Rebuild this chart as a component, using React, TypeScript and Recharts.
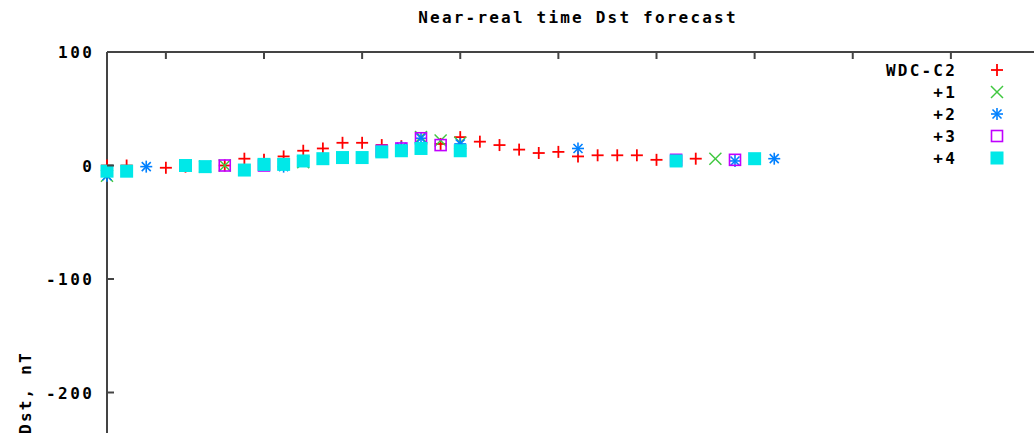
import { ScatterChart, Scatter, XAxis, YAxis, Legend } from "recharts";

// hour index along the x axis, one slot per value
const hours = Array.from({ length: 35 }, (_, i) => i);

const wdc = [0, 0, null, -2, -1, null, 0, 6, 5, 8, 13, 15, 20, 20, 18, 17, null, 19, 25, 21,
  18, 14, 11, 12, 8, 9, 9, 9, 5, 4, 6, null, null, null, null];
const plus1 = [-9, null, null, null, null, -1, 0, null, null, null, 3, null, null, null, null, null, 25, 22, 20, null,
  null, null, null, null, null, null, null, null, null, null, null, 6, null, null, null];
const plus2 = [-9, null, -1, null, null, null, null, null, null, -1, null, null, null, null, null, 16, 24, null, 19, null,
  null, null, null, null, 15, null, null, null, null, null, null, null, 4, null, 6];
const plus3 = [null, null, null, null, null, null, 0, null, 0, null, null, null, null, null, 13, 15, 24, 18, null, null,
  null, null, null, null, null, null, null, null, null, 5, null, null, 5, null, null];
const plus4 = [-5, -5, null, null, 0, -1, null, -4, 1, 1, 4, 6, 7, 7, 12, 13, 15, null, 13, null,
  null, null, null, null, null, null, null, null, null, 4, null, null, null, 6, null];

const xTicks = [3, 8, 13, 18, 23, 28, 33, 38, 43, 48];
const yTicks = [100, 0, -100, -200, -300, -400, -500];

const toPoints = (vals: (number | null)[]) =>
  hours.filter((h) => vals[h] !== null).map((h) => ({ x: h, y: vals[h] }));

const FONT = "'DejaVu Sans Mono', monospace";
const AXIS = "#444";

const RED = "#ff0000";
const GREEN = "#40c840";
const BLUE = "#0080ff";
const PURPLE = "#c000ff";
const CYAN = "#00e8e8";

const PlusMark = ({ cx, cy, color = RED }: any) => (
  <g stroke={color} strokeWidth={1.8}>
    <line x1={cx - 6} x2={cx + 6} y1={cy} y2={cy} />
    <line x1={cx} x2={cx} y1={cy - 6} y2={cy + 6} />
  </g>
);
const CrossMark = ({ cx, cy, color = GREEN }: any) => (
  <g stroke={color} strokeWidth={1.5}>
    <line x1={cx - 6} x2={cx + 6} y1={cy - 6} y2={cy + 6} />
    <line x1={cx - 6} x2={cx + 6} y1={cy + 6} y2={cy - 6} />
  </g>
);
const StarMark = ({ cx, cy, color = BLUE }: any) => (
  <g stroke={color} strokeWidth={1.6}>
    <line x1={cx - 6} x2={cx + 6} y1={cy} y2={cy} />
    <line x1={cx} x2={cx} y1={cy - 6} y2={cy + 6} />
    <line x1={cx - 4.5} x2={cx + 4.5} y1={cy - 4.5} y2={cy + 4.5} />
    <line x1={cx - 4.5} x2={cx + 4.5} y1={cy + 4.5} y2={cy - 4.5} />
  </g>
);
const BoxMark = ({ cx, cy, color = PURPLE }: any) => (
  <rect x={cx - 5.5} y={cy - 5.5} width={11} height={11} fill="none" stroke={color} strokeWidth={1.6} />
);
const FilledBox = ({ cx, cy, color = CYAN }: any) => (
  <rect x={cx - 6.5} y={cy - 6.5} width={13} height={13} fill={color} />
);

const legendRows = [
  { name: "WDC-C2", Mark: PlusMark },
  { name: "+1", Mark: CrossMark },
  { name: "+2", Mark: StarMark },
  { name: "+3", Mark: BoxMark },
  { name: "+4", Mark: FilledBox },
];

function LegendBox() {
  return (
    <svg width={170} height={115}>
      {legendRows.map((r, i) => (
        <g key={r.name}>
          <text x={97} y={12 + i * 22 + 6} textAnchor="end" fontFamily={FONT} fontWeight="bold"
            fontSize={16} letterSpacing={2.2} fill="#000">{r.name}</text>
          <r.Mark cx={137} cy={12 + i * 22} />
        </g>
      ))}
    </svg>
  );
}

const YTick = ({ x, y, payload }: any) => (
  <g>
    <text x={x + 2.5} y={y + 6} textAnchor="end" fontFamily={FONT} fontWeight="bold" fontSize={16}
      letterSpacing={2.5} fill="#000">{payload.value}</text>
    <line x1={x + 15} x2={x + 22} y1={y} y2={y} stroke={AXIS} strokeWidth={2} />
  </g>
);

// top ticks point down into the plot, gnuplot style
const XTick = ({ x, y }: any) => (
  <line x1={x} x2={x} y1={y} y2={y + 7} stroke={AXIS} strokeWidth={2} />
);

const YLabel = ({ viewBox }: any) => {
  const cx = viewBox.x + 25;
  const cy = viewBox.y + viewBox.height / 2;
  return (
    <text x={cx} y={cy} transform={`rotate(-90 ${cx} ${cy})`} textAnchor="middle" dominantBaseline="central"
      fontFamily={FONT} fontWeight="bold" fontSize={16} letterSpacing={2.2} fill="#000">Dst, nT</text>
  );
};

export default function App() {
  return (
    <div style={{ position: "absolute", left: 0, top: 0, width: 1034, height: 433, overflow: "hidden", background: "#fff" }}>
      <div style={{ position: "absolute", left: 107, top: 10, width: 942, textAlign: "center", fontFamily: FONT,
        fontWeight: "bold", fontSize: 16, lineHeight: "16px", letterSpacing: 2.2, color: "#000", zIndex: 2 }}>
        Near-real time Dst forecast
      </div>
      <ScatterChart width={1100} height={780} margin={{ top: 42, right: 51, bottom: 47, left: 0 }}>
        <XAxis type="number" dataKey="x" orientation="top" height={10} domain={[0, 48]} ticks={xTicks}
          interval={0} tickSize={0} tickMargin={0} tickLine={false} tick={<XTick />}
          axisLine={{ stroke: AXIS, strokeWidth: 2 }} />
        <YAxis type="number" dataKey="y" width={107} domain={[-500, 100]} ticks={yTicks} interval={0}
          tickSize={0} tickMargin={15} tickLine={false} tick={<YTick />}
          axisLine={{ stroke: AXIS, strokeWidth: 2 }} label={<YLabel />} />
        <Legend layout="horizontal" verticalAlign="middle" align="center" content={<LegendBox />}
          wrapperStyle={{ position: "absolute", left: 860, top: 58, width: 170, height: 115 }} />
        <Scatter name="WDC-C2" data={toPoints(wdc)} shape={<PlusMark />} isAnimationActive={false} />
        <Scatter name="+1" data={toPoints(plus1)} shape={<CrossMark />} isAnimationActive={false} />
        <Scatter name="+2" data={toPoints(plus2)} shape={<StarMark />} isAnimationActive={false} />
        <Scatter name="+3" data={toPoints(plus3)} shape={<BoxMark />} isAnimationActive={false} />
        <Scatter name="+4" data={toPoints(plus4)} shape={<FilledBox />} isAnimationActive={false} />
      </ScatterChart>
    </div>
  );
}
